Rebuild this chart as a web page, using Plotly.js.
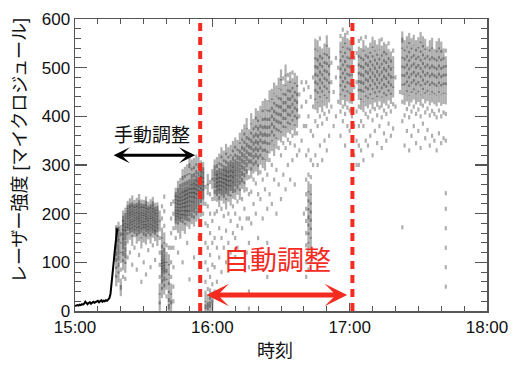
<!DOCTYPE html>
<html>
<head>
<meta charset="utf-8">
<script src="https://cdn.plot.ly/plotly-3.0.1.min.js"></script>
<style>html,body{margin:0;padding:0;background:#fff;}#chart{width:520px;height:370px;}</style>
</head>
<body>
<div id="chart"></div>
<script>
// time axis in minutes after 15:00
const tickMin = [0, 60, 120, 180];
const tickLab = ["15:00", "16:00", "17:00", "18:00"];
// switch-over times (dashed red lines), minutes after 15:00
const markTimes = [54.7, 121.2];

// warm-up trace (continuous line)
const lineT = [0,0.5,1,1.5,2,2.5,3,3.5,4,4.5,5,5.5,6,6.5,7,7.5,8,8.5,9,9.5,10,10.5,11,11.5,12,12.5,13,13.5,14,14.5,15,15.5,16,16.5,17,17.5,18,18.5];
const lineV = [10,11,12,11,13,12,14,13,15,19,16,14,17,18,15,17,19,17,18,20,21,18,20,22,19,21,20,22,21,23,26,35,55,80,105,130,152,170];

// manual tuning phase: per-minute columns of pulse energies
const manT = [18,19,20,21,22,23,24,25,26,27,28,29,30,31,32,33,34,35,36,37,38,39,40,41,42,43,44,45,46,47,48,49,50,51,52,53,54,55,56];
const manV = [
 [62,80,98,112,124,135,143,150,157,163,168,172],
 [70,88,102,115,126,137,146,152,160,166,174],
 [42,55,85,110,130,150,165],
 [70,95,112,125,138,148,158,167,176,185,195],
 [66,90,108,120,132,145,156,165,172,180,190,201],
 [110,150,165,172,178,184,190,195,200,205,211,218],
 [120,158,168,175,181,186,192,197,202,208,214,222],
 [95,145,162,170,177,183,188,194,199,204,210,216,226],
 [130,160,167,174,180,186,191,196,201,207,213,220],
 [85,150,163,171,178,184,189,193,198,203,209,215,223],
 [115,155,166,173,179,185,190,195,200,206,212,219,229],
 [60,140,160,169,176,182,187,192,197,202,208,214,221],
 [100,152,164,172,178,184,190,196,201,207,213,220],
 [75,148,162,170,177,183,189,194,199,205,211,218,226],
 [125,158,167,174,180,186,191,197,203,209,216],
 [90,150,163,171,178,184,190,195,200,206,212,220],
 [135,160,168,175,181,187,192,198,204,210,217,225],
 [105,155,165,172,179,185,190,196,201,207,214],
 [145,162,170,177,183,189,195,201,208,215],
 [8,25,45,70,95,120,150,175,195],
 [38,55,68,78,86,92,98,105,114,125,140,160,190,215],
 [45,60,72,82,88,94,100,108,118,130,150,175,205,235],
 [30,55,75,90,110,135],
 [3,15,30,48,65,85,105,130],
 [10,25,45,70,100,130,160,190,220],
 [20,50,90,130,170,200,225],
 [150,178,188,195,201,207,214,221,229,236,244],
 [120,172,186,193,200,206,213,220,227,235,243,256],
 [160,182,191,198,205,212,219,226,233,241,250,262],
 [100,176,190,198,206,214,221,228,236,244,253,266,280],
 [170,188,197,206,214,222,230,238,246,255,268,285],
 [140,185,196,206,215,224,232,240,248,257,270,290],
 [65,180,195,206,216,226,235,243,251,260,272,292,305],
 [190,203,214,225,234,243,251,260,270,283,300],
 [110,185,201,213,224,234,243,252,261,272,286,303],
 [195,208,220,231,241,250,259,268,278,292,310],
 [150,200,214,226,237,247,256,265,275,288,305],
 [205,222,234,244,252,260,268,277,287,298],
 [200,228,240,249,257,265,274,284,295]
];

// automatic tuning phase
const autoT = [57,58,59,60,61,62,63,64,65,66,67,68,69,70,71,72,73,74,75,76,77,78,79,80,81,82,83,84,85,86,87,88,89,90,91,92,93,94,95,96,97,98,99,100,101,102,103,104,105,106,107,108,109,110,111,112,113,114,115,116,117,118,119,120,121,122,123,124,125,126,127,128,129,130,131,132,133,134,135,136,137,138,139,140,142,143,144,145,146,147,148,149,150,151,152,153,154,155,156,157,158,159,160,161,162];
const autoV = [
 [5,12,30,60,100,140,180,220,255],
 [3,10,22,45,85,130,175,215,250,270],
 [8,18,35,70,115,160,200,240,265],
 [12,28,55,95,140,185,230,262,280],
 [40,90,150,200,238,252,264,276,288,300],
 [60,130,205,236,247,256,264,272,280,290,305],
 [110,170,225,240,250,258,266,274,283,294,312],
 [80,150,210,238,248,257,265,273,282,292,308,325],
 [130,195,232,244,254,263,271,280,289,300,318],
 [100,165,220,240,251,260,269,278,287,298,314,332],
 [140,200,236,248,258,267,276,285,295,307,325],
 [120,185,228,247,258,268,278,288,298,310,330],
 [160,215,242,254,265,275,285,295,306,320,338],
 [111,150,200,240,255,267,278,289,300,312,328,345],
 [130,175,225,250,262,274,286,297,309,322,340],
 [190,240,258,271,283,295,307,320,335,355],
 [170,230,262,276,289,302,315,328,343,362],
 [210,255,272,286,299,312,325,339,355,372],
 [120,190,250,280,294,307,320,334,348,364,385],
 [5,40,90,140,190,240,275,300,315,330,345,362],
 [180,245,284,300,314,328,342,357,374,395],
 [220,270,294,309,323,337,351,366,383],
 [200,262,298,313,327,341,355,370,388,405],
 [150,240,290,308,323,338,352,367,382,400],
 [230,285,312,328,343,358,372,388,410],
 [190,270,305,322,338,354,369,385,402,420],
 [250,300,322,339,355,370,386,403,425],
 [70,140,210,280,318,336,353,369,385,402,422],
 [240,310,335,353,370,386,402,420,442],
 [220,300,340,360,376,392,408,425,445],
 [270,330,352,370,386,402,418,436,458],
 [200,290,345,365,382,398,414,431,452],
 [260,335,362,380,396,412,428,446,468],
 [230,320,358,378,395,411,427,444,465,485],
 [280,345,370,388,404,420,436,455,478],
 [250,335,368,387,404,420,436,453,474,495],
 [300,352,378,396,412,428,444,462,485],
 [270,345,375,394,411,427,443,460,480],
 [310,360,383,401,417,433,449,467,490],
 [260,340,372,392,409,425,441,458,478],
 [320,365,388,405,421,437,453,472],
 [330,400,445],
 [350,420,470],
 [200,380,455],
 [70,100,135,160,185,210,240,270,320,380,430,470],
 [85,130,150,168,185,200,218,235,255,280,330,400,460],
 [100,140,160,178,195,212,230,250,275,310,370,440],
 [300,360,420,480],
 [320,390,425,445,462,478,494,510,528,548],
 [300,380,418,440,458,475,492,508,524,545],
 [340,400,430,450,467,483,499,515,532,560],
 [310,385,420,442,460,477,494,511,528],
 [350,405,433,453,470,486,502,519,538],
 [330,395,428,448,466,483,500,517,535,555],
 [360,410,440,460,478,495,512,530],
 [420,470,510],
 [380,450],
 [400,480,520],
 [430,500],
 [360,410,435,455,472,489,506,523,542,565],
 [390,420,445,463,480,497,514,532,552,578],
 [340,405,432,452,470,487,504,521,540,560],
 [380,418,442,461,478,495,512,530,549,572],
 [370,412,438,458,476,493,510,528,546],
 [400,430,455,475,495,518,540],
 [320,380,460,520],
 [300,350,410,470,530],
 [300,340,380,420,445,463,480,497,514,532,555],
 [330,390,425,445,462,478,494,511,529,560],
 [310,380,420,442,460,476,492,508,525,545],
 [350,405,432,451,468,484,500,516,534,563],
 [340,398,428,448,465,481,497,513,530],
 [360,410,436,455,472,488,504,521,540],
 [320,392,426,447,465,481,497,514,532,552],
 [370,415,440,458,475,491,507,524,545],
 [345,402,431,451,468,484,500,517,536],
 [380,418,442,460,477,493,509,526,548],
 [335,398,429,450,467,483,499,516,534,558],
 [365,412,438,457,474,490,506,523,541],
 [350,405,434,453,470,486,502,519,537],
 [385,420,444,462,478,494,510,527,550],
 [360,410,437,456,473,489,505,522],
 [375,425,450,470,490,512,535],
 [420,480],
 [450],
 [172,390,430,455,475,493,511,530,550,563],
 [340,402,435,457,475,492,509,526,545],
 [370,415,442,462,480,497,514,532,553],
 [330,398,432,454,472,489,506,523,541,560],
 [360,410,440,460,478,495,512,530,549],
 [380,420,446,465,482,499,516,534,556],
 [345,405,436,457,475,492,509,527,545],
 [370,414,441,461,479,496,513,531,551],
 [335,400,433,455,473,490,507,524,542,562],
 [385,422,447,466,483,500,517,535,553],
 [355,408,438,458,476,493,510,528,548],
 [372,416,443,462,480,497,514,532],
 [340,402,434,456,474,491,508,526,545],
 [360,411,440,460,478,495,512,530,550],
 [350,405,436,457,475,492,509,527],
 [330,398,432,454,472,489,506,524,543],
 [365,412,440,460,478,495,512,530,549],
 [345,400,433,455,473,490,507,525,542],
 [355,408,437,458,476,493,510,528],
 [50,90,130,170,210,242,350,405,436,458,476,494,512,535]
];

const FONT = '"Liberation Sans", Arial, "Noto Sans CJK JP", sans-serif';
const RED = '#f42b1f';
const PX_PER_UNIT = 292 / 600; // plot height / y range

// Flatten columns; each reading's stroke length follows how close its neighbours are,
// so dense runs merge into a cloud while isolated readings stay small dots.
function flatten(ts, vs) {
  const x = [], y = [], s = [];
  ts.forEach((t, i) => {
    const col = vs[i];
    col.forEach((v, j) => {
      const gaps = [];
      if (j > 0) gaps.push(v - col[j - 1]);
      if (j < col.length - 1) gaps.push(col[j + 1] - v);
      const g = gaps.length ? Math.min.apply(null, gaps) : 100;
      x.push(t); y.push(v);
      s.push(g <= 22 ? Math.min(8, Math.max(3, 1.7 * g * PX_PER_UNIT)) : 3);
    });
  });
  return {x, y, s};
}
const man = flatten(manT, manV);
const auto = flatten(autoT, autoV);

function dots(d) {
  return {type: 'scatter', mode: 'markers', x: d.x, y: d.y, hoverinfo: 'skip',
    marker: {symbol: 'line-ns-open', size: d.s, color: 'rgba(0,0,0,0.45)', line: {width: 2.2, color: 'rgba(0,0,0,0.45)'}}};
}
const traces = [
  dots(man), dots(auto),
  {type: 'scatter', mode: 'lines', x: lineT, y: lineV, line: {color: '#000', width: 2}, hoverinfo: 'skip'}
];

const axisCommon = {
  ticks: 'inside', tickcolor: '#555', tickwidth: 1.5,
  showline: true, linecolor: '#555', linewidth: 1.5, mirror: 'ticks',
  showgrid: false, zeroline: false,
  tickfont: {family: FONT, size: 17, color: '#111'}
};

const layout = {
  width: 520, height: 370,
  margin: {l: 75, r: 33, t: 19, b: 59},
  paper_bgcolor: '#fff', plot_bgcolor: '#fff',
  showlegend: false,
  font: {family: FONT, size: 17, color: '#111'},
  xaxis: Object.assign({}, axisCommon, {
    range: [0, 180], tickmode: 'array', tickvals: tickMin, ticktext: tickLab, ticklen: 8,
    minor: {tickmode: 'linear', tick0: 0, dtick: 10, ticks: 'inside', ticklen: 5, tickwidth: 1, tickcolor: '#555', showgrid: false}
  }),
  yaxis: Object.assign({}, axisCommon, {
    range: [0, 600], tickmode: 'linear', tick0: 0, dtick: 100, ticklen: 12,
    minor: {tickmode: 'linear', tick0: 0, dtick: 20, ticks: 'inside', ticklen: 6, tickwidth: 1, tickcolor: '#555', showgrid: false}
  }),
  shapes: markTimes.map(t => ({
    type: 'line', xref: 'x', yref: 'y', x0: t, x1: t, y0: 0, y1: 600,
    line: {color: RED, width: 4, dash: '8px,6px'}, layer: 'above'
  })),
  annotations: [
    {xref: 'paper', yref: 'paper', x: -0.1335, y: 0.551, text: 'レーザー強度 [マイクロジュール]', textangle: -90,
     showarrow: false, xanchor: 'center', yanchor: 'middle', font: {family: FONT, size: 18, color: '#111'}},
    {xref: 'paper', yref: 'paper', x: 0.485, y: -0.137, text: '時刻', showarrow: false,
     xanchor: 'center', yanchor: 'middle', font: {family: FONT, size: 18, color: '#111'}},
    {xref: 'x', yref: 'y', x: 33.7, y: 360, text: '手動調整', showarrow: false,
     xanchor: 'center', yanchor: 'middle', font: {family: FONT, size: 19, color: '#111'}},
    {xref: 'x', yref: 'y', x: 52.5, y: 320, axref: 'x', ayref: 'y', ax: 16.2, ay: 320, text: '',
     showarrow: true, arrowside: 'end+start', arrowhead: 3, startarrowhead: 3, arrowsize: 0.9, startarrowsize: 0.9,
     arrowwidth: 3, arrowcolor: '#000', standoff: 0, startstandoff: 0},
    {xref: 'x', yref: 'y', x: 88.3, y: 103, text: '自動調整', showarrow: false,
     xanchor: 'center', yanchor: 'middle', font: {family: FONT, size: 27, color: RED}},
    {xref: 'x', yref: 'y', x: 118.9, y: 33, axref: 'x', ayref: 'y', ax: 56.8, ay: 33, text: '',
     showarrow: true, arrowside: 'end+start', arrowhead: 3, startarrowhead: 3, arrowsize: 0.75, startarrowsize: 0.75,
     arrowwidth: 5, arrowcolor: RED, standoff: 0, startstandoff: 0}
  ]
};

Plotly.newPlot('chart', traces, layout, {staticPlot: true, displayModeBar: false});
</script>
</body>
</html>
